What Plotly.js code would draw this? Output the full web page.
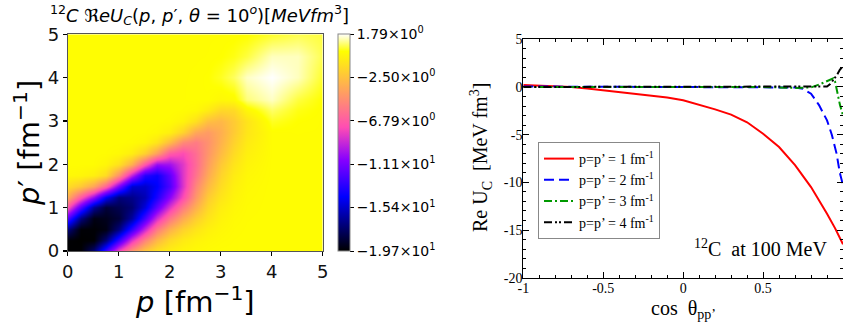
<!DOCTYPE html>
<html><head><meta charset="utf-8">
<script src="https://cdn.plot.ly/plotly-3.0.1.min.js"></script>
<style>html,body{margin:0;padding:0;background:#fff}#c{width:843px;height:329px}</style>
</head><body><div id="c"></div>
<script>
// ---- Heatmap data (p, p' grid in fm^-1) ----
const pGrid = [0,0.25,0.5,0.75,1,1.25,1.5,1.75,2,2.25,2.5,2.75,3,3.25,3.5,4,4.5,5];
const ppGrid = [0,0.25,0.5,0.75,1,1.25,1.5,1.75,2,2.25,2.5,2.75,3,3.25,3.5,4,4.5,5];
// rows: p' ; columns: p  (Re U_C in MeV fm^3)
const reU = [
  [-19.7,-19.6,-17.2,-12.5,-7.57,-4.23,-2.16,-1.09,-0.53,-0.23,-0.11,-0.05,0,0,0,0,0,0],
  [-19.6,-19.7,-19.6,-17.15,-12.8,-8.37,-5.06,-2.88,-1.46,-0.75,-0.38,-0.2,-0.09,-0.03,0,0,0,0],
  [-17.1,-19.57,-19.6,-19.3,-17.0,-13.0,-9.0,-5.48,-3.21,-1.82,-1.0,-0.49,-0.22,-0.07,-0.02,0,0,0],
  [-12.2,-17.0,-19.3,-19.1,-18.5,-16.3,-12.5,-8.72,-5.65,-3.5,-1.96,-1.0,-0.39,-0.13,-0.04,0,0,0],
  [-7.2,-12.1,-16.6,-18.5,-18,-17.3,-15.0,-11.7,-8.35,-5.45,-3.25,-1.55,-0.62,-0.23,-0.07,0,0,0],
  [-3.47,-7.03,-10.4,-14.5,-17.1,-16.8,-15.9,-13.6,-10.6,-7.48,-4.3,-2.1,-0.97,-0.36,-0.1,0,0,0],
  [-1.36,-2.22,-3.78,-6.5,-11.0,-15.3,-15.4,-14.4,-12.2,-8.47,-5.0,-2.84,-1.37,-0.51,-0.15,0,0,0],
  [-0.18,-0.29,-0.56,-1.41,-4.64,-9.24,-13.3,-14,-11.8,-8.4,-5.81,-3.52,-1.76,-0.71,-0.23,-0.01,0,0],
  [0,-0.01,-0.03,-0.28,-1.16,-3.26,-7.0,-10.2,-10,-8.32,-6.21,-4.02,-2.22,-1.03,-0.36,-0.01,0,0],
  [0,0,0,-0.03,-0.15,-0.63,-1.88,-3.97,-6.85,-7.5,-6.08,-4.38,-2.79,-1.42,-0.55,-0.02,0,0],
  [0,0,0,0,-0.01,-0.06,-0.25,-1.0,-2.76,-4.88,-5.5,-4.55,-3.17,-1.81,-0.76,-0.02,0,0],
  [0,0,0,0,0,0,-0.02,-0.14,-0.56,-1.77,-3.62,-4.16,-3.32,-2.11,-0.98,0,0.01,0],
  [0,0,0,0,0,0,0,-0.01,-0.06,-0.36,-1.23,-2.61,-2.96,-2.12,-1.07,0.3,0.06,0],
  [0,0,0,0,0,0,0,0,0,-0.04,-0.16,-0.73,-1.6,-1.5,-0.3,0.75,0.2,0.02],
  [0,0,0,0,0,0,0,0,0,0,0.05,0.04,-0.19,-0.1,0.9,1.4,0.5,0.06],
  [0,0,0,0,0,0,0,0,0,0,0.02,0.07,0.3,0.7,1.4,1.79,1.35,0.35],
  [0,0,0,0,0,0,0,0,0,0,0,0.01,0.06,0.2,0.5,1.35,1.35,0.6],
  [0,0,0,0,0,0,0,0,0,0,0,0,0,0.02,0.06,0.35,0.6,0.5]
];
const cbTickVals = [1.79,-2.50,-6.79,-11.1,-15.4,-19.7];
const cbTickText = ['1.79×10<sup>0</sup>','−2.50×10<sup>0</sup>','−6.79×10<sup>0</sup>','−1.11×10<sup>1</sup>','−1.54×10<sup>1</sup>','−1.97×10<sup>1</sup>'];

// ---- Line chart data (cos theta) ----
const cosRed = [-1,-0.9,-0.8,-0.7,-0.6,-0.5,-0.4,-0.3,-0.2,-0.1,0,0.1,0.2,0.3,0.4,0.5,0.6,0.7,0.8,0.9,0.95,1.0];
const red1 = [0.2,0.15,0.1,0.0,-0.15,-0.35,-0.5,-0.7,-0.9,-1.1,-1.4,-1.85,-2.35,-2.9,-3.7,-4.9,-6.3,-8.2,-10.5,-13.3,-14.8,-16.5];
const cosBlue = [-1,-0.5,0,0.5,0.7,0.75,0.8,0.85,0.9,0.93,0.96,0.98,1.0];
const blue2 = [0.05,0.02,0,-0.02,-0.05,-0.2,-0.7,-1.9,-3.5,-5.0,-7.0,-9.0,-10.3];
const cosGreen = [-1,-0.5,0,0.5,0.7,0.8,0.85,0.9,0.94,0.95,0.96,0.98,1.0];
const green3 = [0,0,0,0,-0.1,-0.05,0.25,0.6,0.9,0.6,-0.3,-1.8,-3.0];
const cosBlack = [-1,-0.5,0,0.5,0.8,0.9,0.92,0.94,0.96,0.98,1.0];
const black4 = [0,0,0,0,0,0.05,0.3,0.7,1.2,1.8,2.2];
const legendNames = ['p=p’ = 1 fm<sup>-1</sup>','p=p’ = 2 fm<sup>-1</sup>','p=p’ = 3 fm<sup>-1</sup>','p=p’ = 4 fm<sup>-1</sup>'];
const xTickVals = [-1,-0.5,0,0.5];
const xTickText = ['-1','-0.5','0','0.5'];
const yTickVals = [5,0,-5,-10,-15,-20];
const yTickText = ['5','0','-5','-10','-15','-20'];

const W=843,H=329;
const colorscale=[[0,'rgb(0,0,0)'],[0.25,'rgb(0,0,255)'],[0.42,'rgb(135,0,255)'],[0.57,'rgb(255,77,179)'],[0.92,'rgb(255,255,0)'],[1,'rgb(255,255,255)']];

const traces=[
 {type:'heatmap',x:pGrid,y:ppGrid,z:reU,zsmooth:'best',colorscale:colorscale,zmin:-19.7,zmax:1.79,
  xaxis:'x',yaxis:'y',showlegend:false,hoverinfo:'skip',
  colorbar:{x:338/W,xanchor:'left',y:1-34/H,yanchor:'top',len:217/H,lenmode:'fraction',thickness:12,thicknessmode:'pixels',
   outlinewidth:1,outlinecolor:'#888',tickmode:'array',tickvals:cbTickVals,ticktext:cbTickText,ticks:'outside',ticklen:4,tickcolor:'#000',
   tickfont:{family:'DejaVu Sans',size:14,color:'#000'},xpad:0,ypad:0}},
 {type:'scatter',mode:'lines',x:cosRed,y:red1,name:legendNames[0],xaxis:'x2',yaxis:'y2',line:{color:'#ff0000',width:2}},
 {type:'scatter',mode:'lines',x:cosBlue,y:blue2,name:legendNames[1],xaxis:'x2',yaxis:'y2',line:{color:'#0000ff',width:2,dash:'10px,5px'}},
 {type:'scatter',mode:'lines',x:cosGreen,y:green3,name:legendNames[2],xaxis:'x2',yaxis:'y2',line:{color:'#009900',width:2,dash:'8px,3px,2px,3px'}},
 {type:'scatter',mode:'lines',x:cosBlack,y:black4,name:legendNames[3],xaxis:'x2',yaxis:'y2',line:{color:'#000000',width:2,dash:'8px,3px,2px,2px,2px,3px'}}
];

const serif='Liberation Serif';
const layout={
 width:W,height:H,margin:{l:0,r:0,t:0,b:0},paper_bgcolor:'#fff',plot_bgcolor:'#fff',
 xaxis:{domain:[67.7/W,322.7/W],range:[0,5],tickvals:[0,1,2,3,4,5],ticks:'outside',ticklen:4,tickwidth:1.5,tickcolor:'#000',
   showline:true,linecolor:'#555',linewidth:1,mirror:true,showgrid:false,zeroline:false,
   tickfont:{family:'DejaVu Sans',size:18,color:'#111'},anchor:'y'},
 yaxis:{domain:[1-251/H,1-34.3/H],range:[0,5],tickvals:[0,1,2,3,4,5],ticks:'outside',ticklen:4,tickwidth:1.5,tickcolor:'#000',
   showline:true,linecolor:'#555',linewidth:1,mirror:true,showgrid:false,zeroline:false,
   tickfont:{family:'DejaVu Sans',size:18,color:'#111'},anchor:'x'},
 xaxis2:{domain:[523.3/W,1],range:[-1,1],tickmode:'array',tickvals:xTickVals,ticktext:xTickText,ticks:'inside',ticklen:6,tickcolor:'#000',
   minor:{tickmode:'linear',tick0:0,dtick:0.1,ticks:'inside',ticklen:3,tickcolor:'#000'},
   showline:true,linecolor:'#000',linewidth:1,mirror:'ticks',showgrid:false,zeroline:false,ticklabelstandoff:-3,
   tickfont:{family:serif,size:14,color:'#000'},anchor:'y2'},
 yaxis2:{domain:[1-277.7/H,1-39.3/H],range:[-20,5],tickmode:'array',tickvals:yTickVals,ticktext:yTickText,ticks:'inside',ticklen:6,tickcolor:'#000',
   minor:{tickmode:'linear',tick0:0,dtick:1,ticks:'inside',ticklen:3,tickcolor:'#000'},
   showline:true,linecolor:'#000',linewidth:1,mirror:'ticks',showgrid:false,zeroline:false,ticklabelstandoff:-3,
   tickfont:{family:serif,size:14,color:'#000'},anchor:'x2'},
 showlegend:true,
 legend:{x:538/W,xanchor:'left',y:1-142/H,yanchor:'top',bgcolor:'#fff',bordercolor:'#888',borderwidth:1,itemwidth:30,
   font:{family:serif,size:14,color:'#000'},tracegroupgap:0},
 annotations:[
  {xref:'paper',yref:'paper',x:199/W,y:1-15/H,xanchor:'center',yanchor:'middle',showarrow:false,
   text:'<sup>12</sup><i>C</i> ℜ<i>eU</i><sub><i>C</i></sub>(<i>p</i>, <i>p</i>′, <i>θ</i> = 10<sup><i>o</i></sup>)[<i>MeVfm</i><sup>3</sup>]',
   font:{family:'DejaVu Sans',size:18,color:'#000'}},
  {xref:'paper',yref:'paper',x:195/W,y:1-300/H,xanchor:'center',yanchor:'middle',showarrow:false,
   text:'<i>p</i> [fm<sup>−1</sup>]',font:{family:'DejaVu Sans',size:29,color:'#000'}},
  {xref:'paper',yref:'paper',x:27/W,y:1-143/H,xanchor:'center',yanchor:'middle',showarrow:false,textangle:-90,
   text:'<i>p</i>′ [fm<sup>−1</sup>]',font:{family:'DejaVu Sans',size:29,color:'#000'}},
  {xref:'paper',yref:'paper',x:481/W,y:1-158/H,xanchor:'center',yanchor:'middle',showarrow:false,textangle:-90,
   text:'Re U<sub>C</sub>  [MeV fm<sup>3</sup>]',font:{family:serif,size:20,color:'#000'}},
  {xref:'paper',yref:'paper',x:683/W,y:1-309/H,xanchor:'center',yanchor:'middle',showarrow:false,
   text:'cos  θ<sub>pp’</sub>',font:{family:serif,size:20,color:'#000'}},
  {xref:'paper',yref:'paper',x:760/W,y:1-248/H,xanchor:'center',yanchor:'middle',showarrow:false,
   text:'<sup>12</sup>C  at 100 MeV',font:{family:serif,size:20,color:'#000'}}
 ]
};
Plotly.newPlot('c',traces,layout,{staticPlot:true});
</script></body></html>
